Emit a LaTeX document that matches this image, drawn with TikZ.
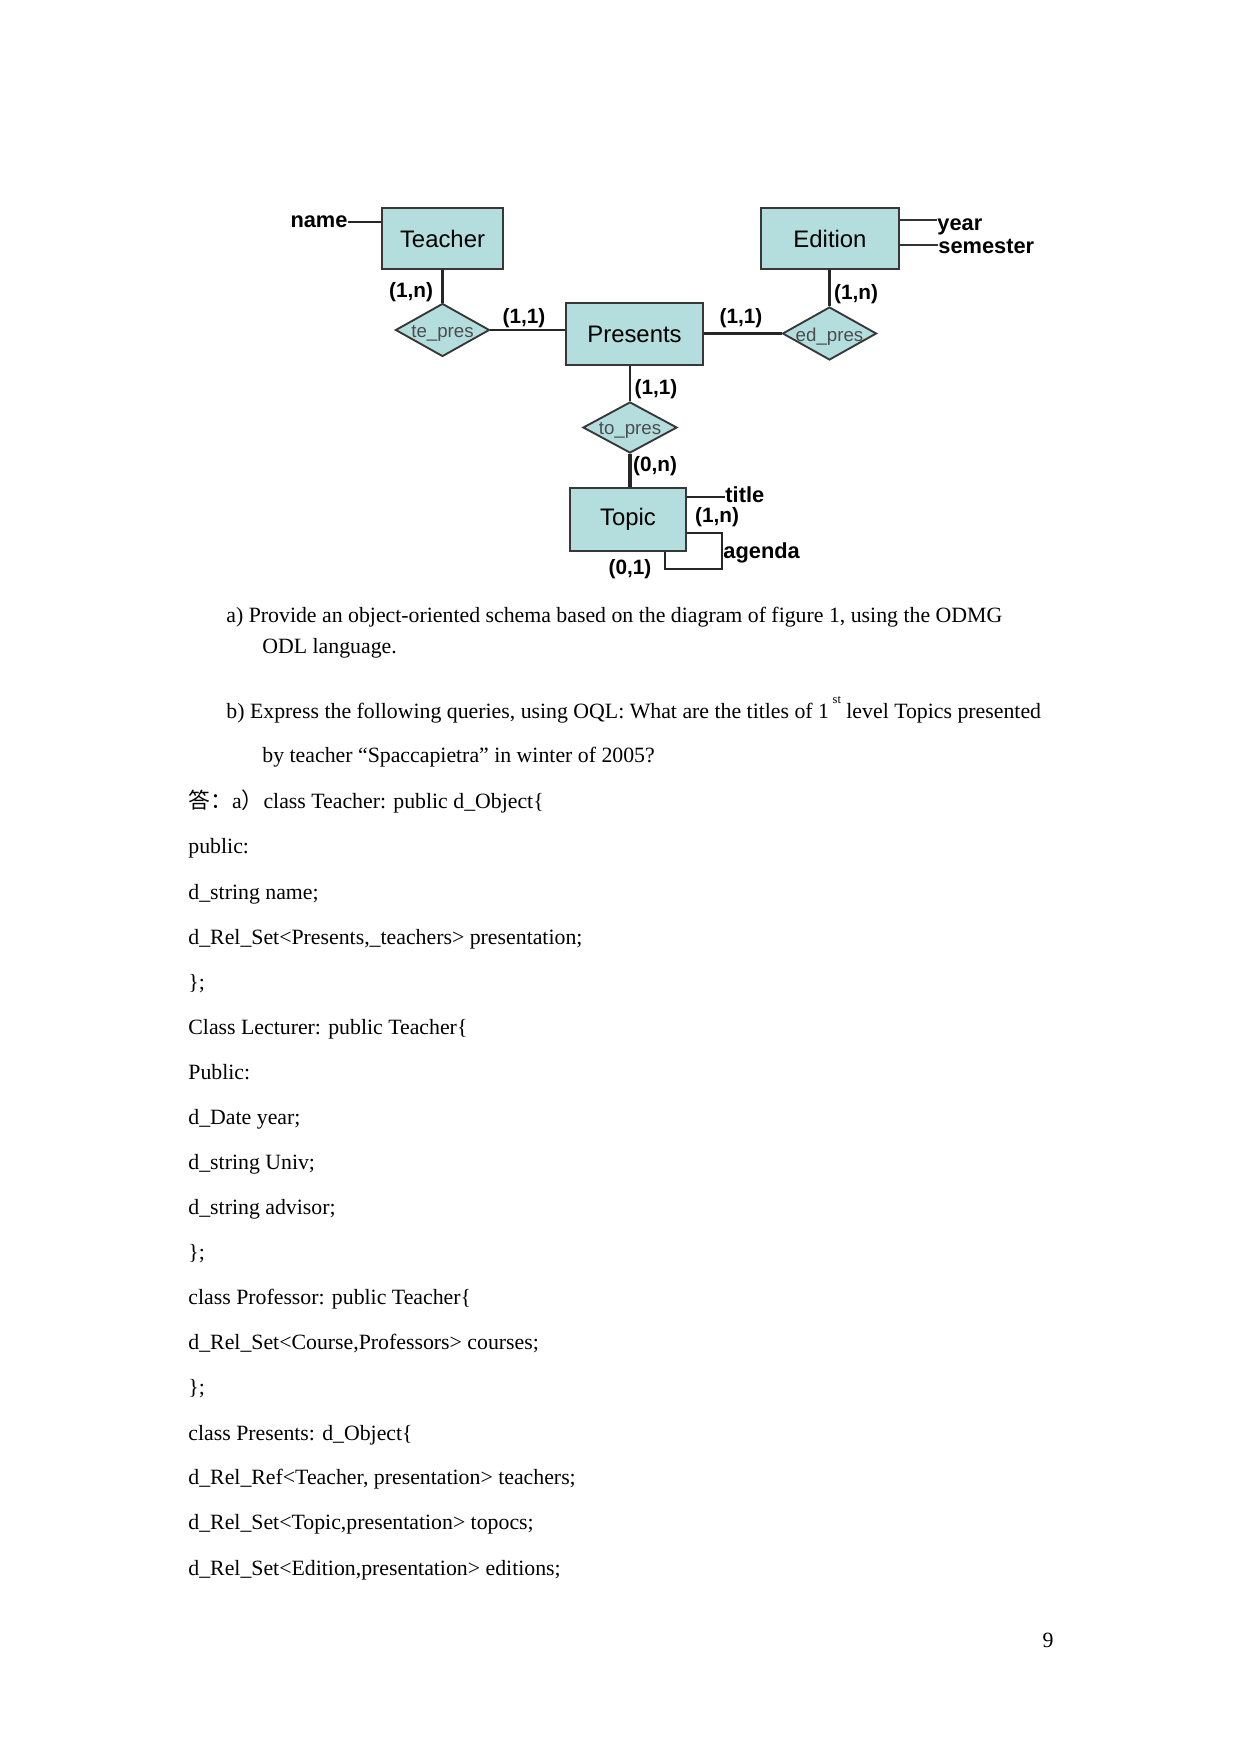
\documentclass[tikz,border=0pt]{standalone}
\usepackage{fontspec}
\setmainfont{Liberation Serif}
\newfontfamily\diagfont{Liberation Sans}
\newfontfamily\cjk{Noto Sans CJK SC}
\usetikzlibrary{shapes.geometric}
\definecolor{boxfill}{RGB}{180,222,222}
\definecolor{boxline}{RGB}{55,55,55}
\newcommand{\pxl}{0.48148pt}
\tikzset{
  entity/.style={draw=boxline, fill=boxfill, line width=1.3pt, inner sep=0pt,
    minimum height=61*\pxl, font=\diagfont\fontsize{11.5}{12}\selectfont},
  relation/.style={diamond, draw=boxline, fill=boxfill, line width=0.9pt, inner sep=0pt,
    minimum width=94*\pxl, minimum height=53*\pxl},
  rellabel/.style={font=\diagfont\fontsize{9}{9}\selectfont, text=black!70, inner sep=0pt, yshift=-1.5pt},
  card/.style={font=\diagfont\bfseries\fontsize{10}{10}\selectfont, inner sep=0pt},
  attrib/.style={font=\diagfont\bfseries\fontsize{10.5}{10.5}\selectfont, inner sep=0pt},
  link/.style={draw=black!85, line width=1pt},
  attrlink/.style={draw=black!80, line width=0.7pt},
  bodytext/.style={anchor=base west, inner sep=0pt, font=\fontsize{10.5}{12}\selectfont},
}

\begin{document}
\begin{tikzpicture}[x=0.48148pt, y=-0.48148pt]
    % page
    \useasboundingbox[fill=white] (0,0) rectangle (1241,1754);
    % entities
    \node[entity, minimum width=121*\pxl] (teacher) at (442.5,238.5) {Teacher};
    \node[entity, minimum width=138*\pxl] (edition) at (830,238.5) {Edition};
    \node[entity, minimum width=137*\pxl, minimum height=62*\pxl] (presents) at (634.5,334) {Presents};
    \node[entity, minimum width=116*\pxl, minimum height=63*\pxl] (topic) at (628,519.5) {Topic};
    % relationships
    \node[relation, label={[rellabel]center:te\_pres}] (tepres) at (442.5,330) {};
    \node[relation, label={[rellabel]center:ed\_pres}] (edpres) at (829.5,333.5) {};
    \node[relation, minimum height=51*\pxl, label={[rellabel]center:to\_pres}] (topres) at (630,427.5) {};
    % attributes
    \node[attrib] (name) at (319,222) {name};
    \node[attrib, anchor=base west] (year) at (937,231) {year};
    \node[attrib, anchor=base west] (semester) at (938,254) {semester};
    \node[attrib, anchor=base west] (title) at (725,502) {title};
    \node[attrib, anchor=base west] (agenda) at (723,558) {agenda};
    \coordinate (agcorner) at (722,569);
    % links
    \draw[link] (name.east) -- (name.east -| teacher.west);
    \draw[link] (teacher.south) -- (tepres.north);
    \draw[link] (tepres.east) -- (tepres.east -| presents.west);
    \draw[link] (presents.east |- edpres.west) -- (edpres.west);
    \draw[link] (edition.south -| edpres.north) -- (edpres.north);
    \draw[link] (topres.north |- presents.south) -- (topres.north);
    \draw[link, line width=1.8pt] (topres.south) -- (topres.south |- topic.north);
    \draw[attrlink] (edition.east |- 0,220) -- (year.west |- 0,220);
    \draw[attrlink] (edition.east |- 0,245) -- (semester.west |- 0,245);
    \draw[link] (topic.east |- 0,497) -- (title.west |- 0,497);
    \draw[link] (topic.east |- 0,533) -| (agcorner) -| (topic.south -| 665,0);
    % cardinalities
    \node[card] (cteacher) at (411,292) {(1,n)};
    \node[card] (cptep) at (524,318) {(1,1)};
    \node[card] (cpedp) at (741,318) {(1,1)};
    \node[card] (cedition) at (856,294) {(1,n)};
    \node[card] (cptop) at (656,389) {(1,1)};
    \node[card] (ctopic) at (655,466) {(0,n)};
    \node[card] (ctitle) at (717,517) {(1,n)};
    \node[card] (cagenda) at (630,569) {(0,1)};
    % questions
    \node[bodytext] (qa1) at (226,622) {a) Provide an object-oriented schema based on the diagram of figure 1, using the ODMG};
    \node[bodytext] (qa2) at (262,653) {ODL language.};
    \node[bodytext] (qb1) at (226,718) {b) Express the following queries, using OQL: What are the titles of 1\,\raisebox{7.2pt}{\fontsize{6}{6}\selectfont st} level Topics presented};
    \node[bodytext] (qb2) at (262,762) {by teacher “Spaccapietra” in winter of 2005?};
    % answer
    \node[bodytext] (l1) at (188,808) {{\cjk 答：}a{\cjk ）}class Teacher: public d\_Object\{};
    \node[bodytext] (l2) at (188,853) {public:};
    \node[bodytext] (l3) at (188,899) {d\_string name;};
    \node[bodytext] (l4) at (188,944) {d\_Rel\_Set<Presents,\_teachers> presentation;};
    \node[bodytext] (l5) at (188,989) {\};};
    \node[bodytext] (l6) at (188,1034) {Class Lecturer: public Teacher\{};
    \node[bodytext] (l7) at (188,1079) {Public:};
    \node[bodytext] (l8) at (188,1124) {d\_Date year;};
    \node[bodytext] (l9) at (188,1169) {d\_string Univ;};
    \node[bodytext] (l10) at (188,1214) {d\_string advisor;};
    \node[bodytext] (l11) at (188,1259) {\};};
    \node[bodytext] (l12) at (188,1304) {class Professor: public Teacher\{};
    \node[bodytext] (l13) at (188,1349) {d\_Rel\_Set<Course,Professors> courses;};
    \node[bodytext] (l14) at (188,1394) {\};};
    \node[bodytext] (l15) at (188,1440) {class Presents: d\_Object\{};
    \node[bodytext] (l16) at (188,1484) {d\_Rel\_Ref<Teacher, presentation> teachers;};
    \node[bodytext] (l17) at (188,1529) {d\_Rel\_Set<Topic,presentation> topocs;};
    \node[bodytext] (l18) at (188,1575) {d\_Rel\_Set<Edition,presentation> editions;};
    % page number
    \node[bodytext, anchor=base] (pagenum) at (1048,1647) {9};
\end{tikzpicture}
\end{document}
